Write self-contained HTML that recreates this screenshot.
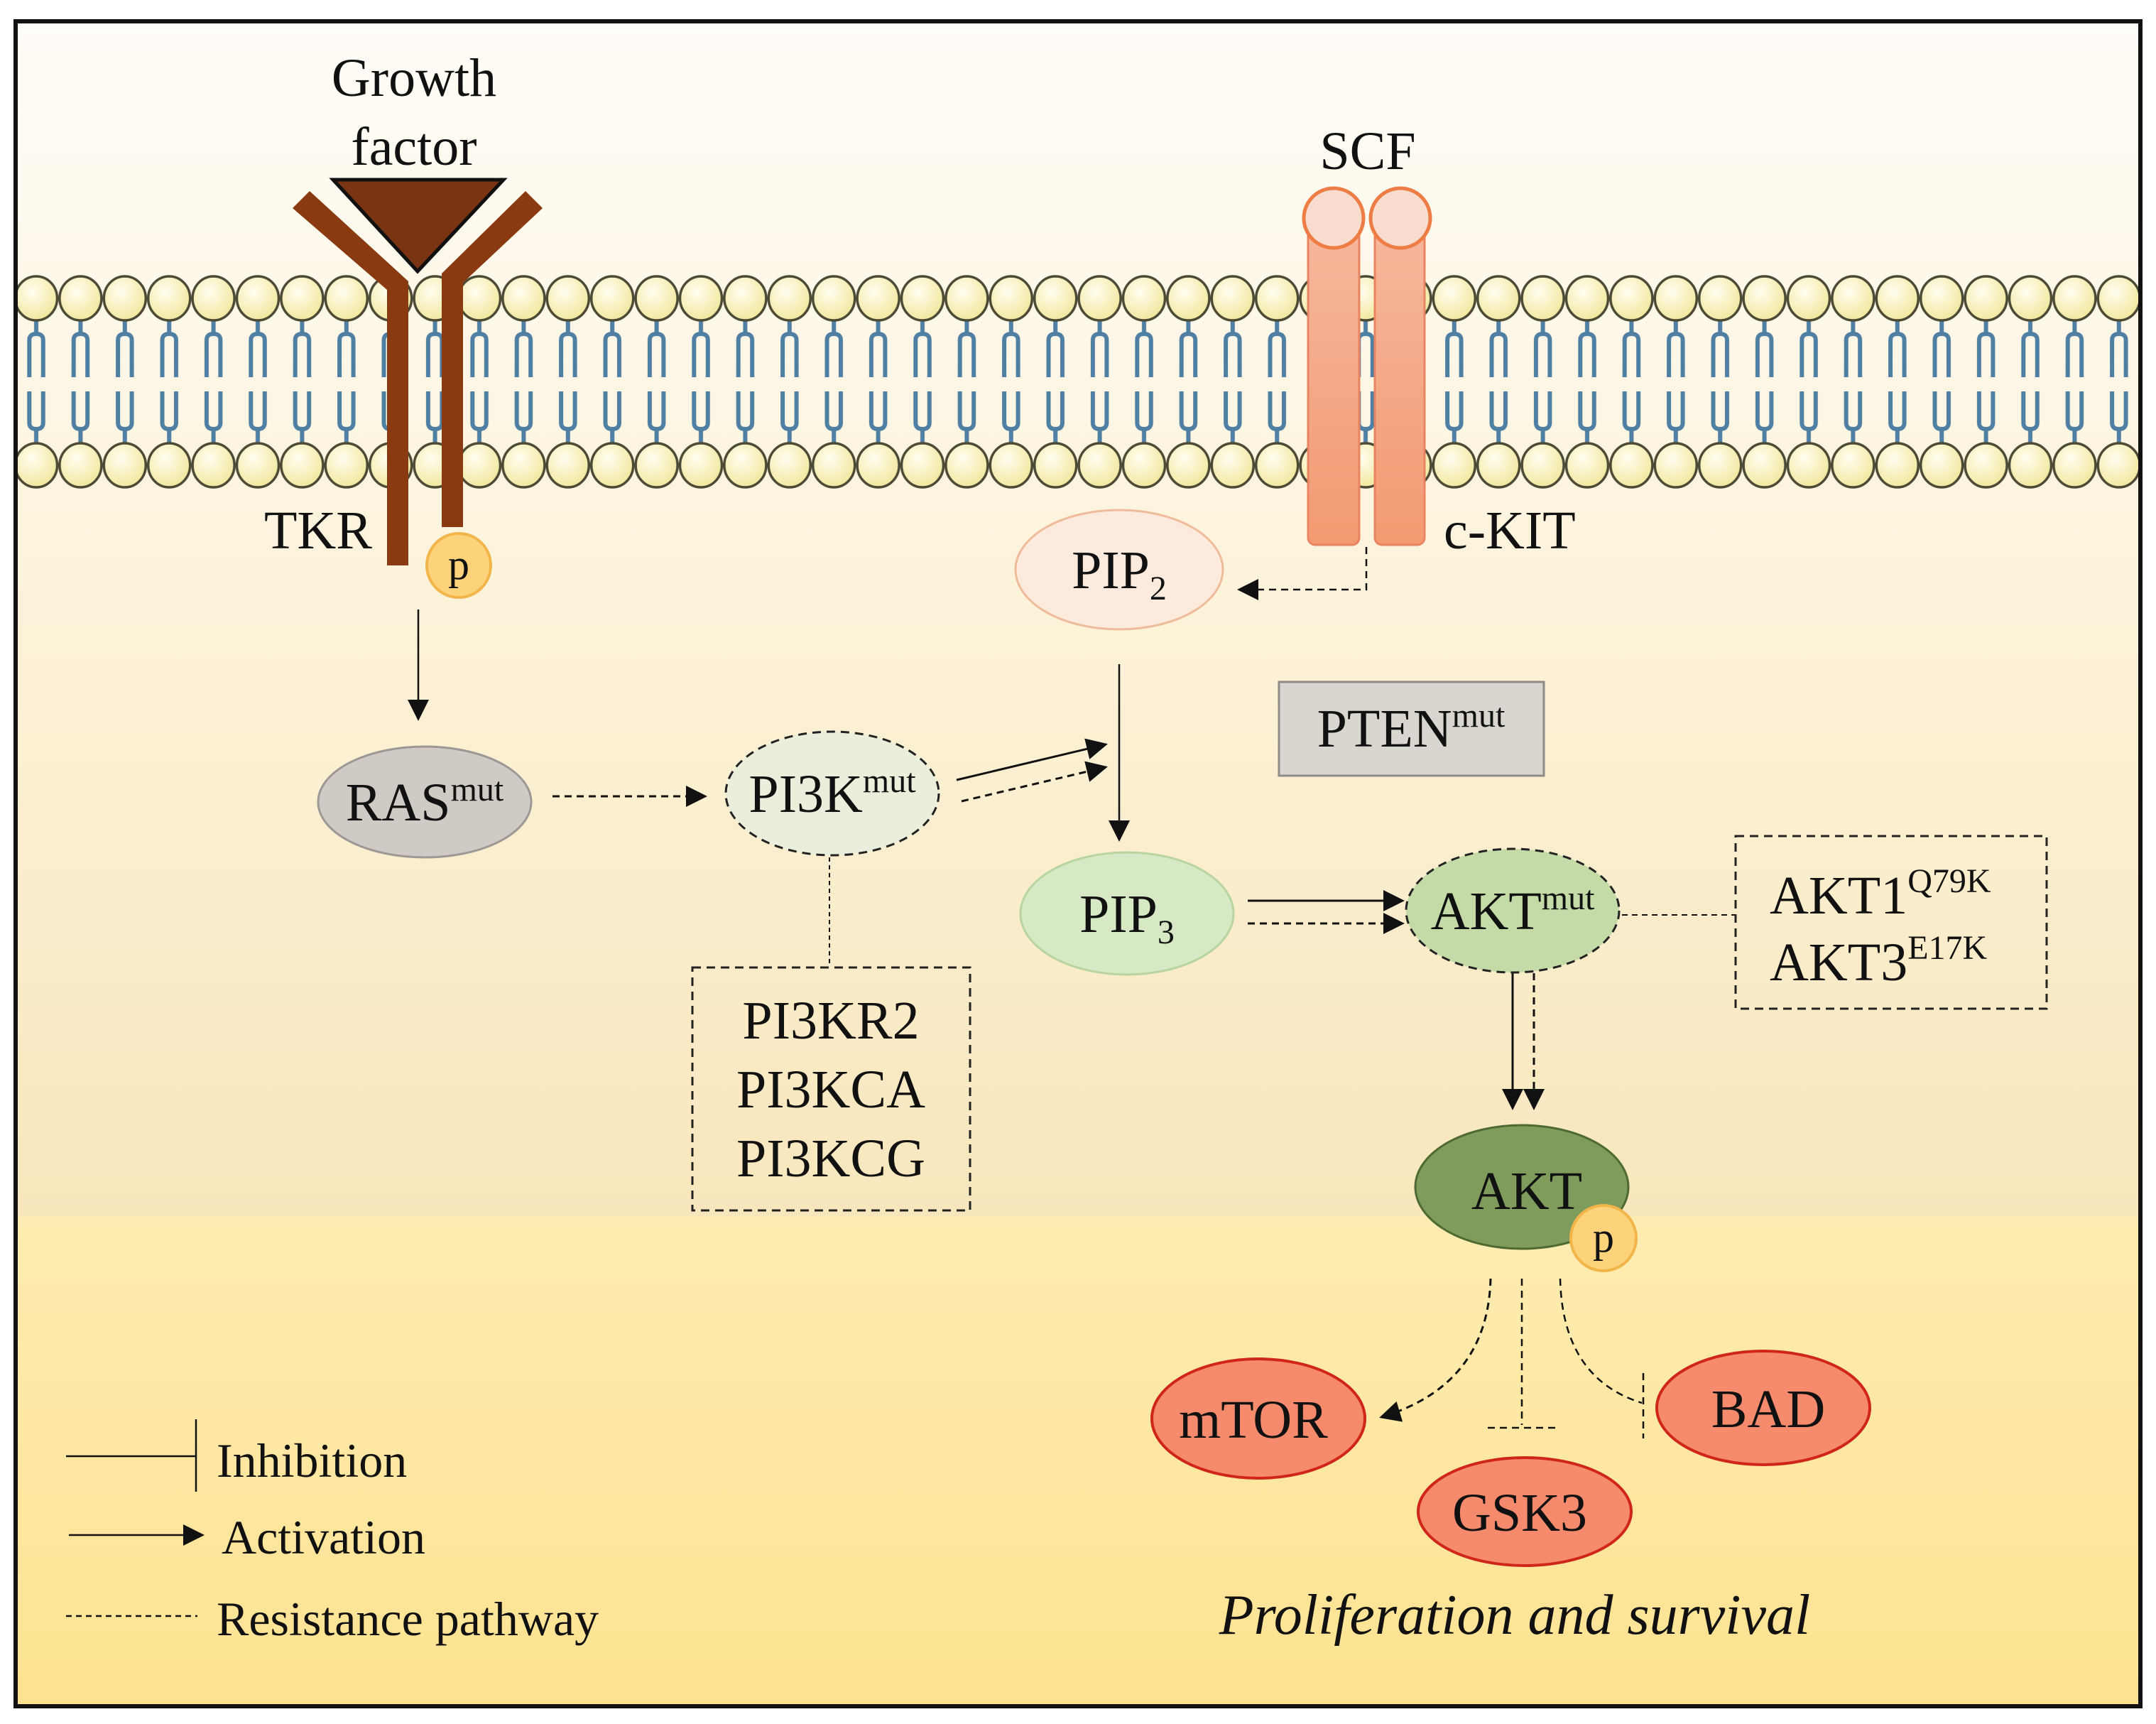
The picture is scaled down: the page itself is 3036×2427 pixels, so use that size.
<!DOCTYPE html>
<html><head><meta charset="utf-8"><style>
html,body{margin:0;padding:0;background:#fff;}
svg{display:block;}
text{font-family:"Liberation Serif",serif;fill:#111;}
</style></head><body>
<svg width="3036" height="2427" viewBox="0 0 3036 2427" xmlns="http://www.w3.org/2000/svg">
<defs>
<linearGradient id="bg1" x1="0" y1="0" x2="0" y2="1">
<stop offset="0" stop-color="#fffdf8"/><stop offset="0.55" stop-color="#fcf1d6"/><stop offset="1" stop-color="#f8e7bd"/>
</linearGradient>
<linearGradient id="bg2" x1="0" y1="0" x2="0" y2="1">
<stop offset="0" stop-color="#feecb2"/><stop offset="1" stop-color="#fde290"/>
</linearGradient>
<radialGradient id="head" cx="0.4" cy="0.35" r="0.7">
<stop offset="0" stop-color="#fffef0"/><stop offset="1" stop-color="#f1e69a"/>
</radialGradient>
<linearGradient id="kit" x1="0" y1="0" x2="0" y2="1">
<stop offset="0" stop-color="#f6b79c"/><stop offset="1" stop-color="#f39a72"/>
</linearGradient>
<pattern id="mem" patternUnits="userSpaceOnUse" x="19.8" y="0" width="62.4" height="2427">
<g fill="none" stroke="#4f7fa3" stroke-width="6">
<path d="M31.2 451 V470 M21.5 531 V479 Q21.5 470 31.2 470 Q41 470 41 479 V531"/>
<path d="M21.5 551 V595 Q21.5 604 31.2 604 Q41 604 41 595 V551 M31.2 604 V624"/>
</g>
<ellipse cx="31.2" cy="420" rx="29.5" ry="31" fill="url(#head)" stroke="#4a4a35" stroke-width="3.5"/>
<ellipse cx="31.2" cy="655" rx="29.5" ry="31" fill="url(#head)" stroke="#4a4a35" stroke-width="3.5"/>
</pattern>
<marker id="ahb" viewBox="0 0 10 10" refX="9" refY="5" markerWidth="34" markerHeight="30" markerUnits="userSpaceOnUse" orient="auto">
<path d="M0 0 L10 5 L0 10 Z" fill="#111"/></marker>
</defs>

<rect x="19" y="27" width="2998" height="1685" fill="url(#bg1)"/>
<rect x="19" y="1712" width="2998" height="693" fill="url(#bg2)"/>

<rect x="20" y="385" width="2995" height="305" fill="url(#mem)"/>

<g fill="#8a3a10">
<polygon points="412,293 436,269 575,396 575,796 545,796 545,408"/>
<polygon points="764,293 740,269 622,385 622,742 652,742 652,398"/>
</g>
<polygon points="469,253 709,253 588,382" fill="#7b3411" stroke="#111" stroke-width="5"/>
<text x="583" y="135" font-size="76" text-anchor="middle">Growth</text>
<text x="583" y="232" font-size="76" text-anchor="middle">factor</text>
<text x="372" y="772" font-size="76">TKR</text>
<circle cx="646" cy="796" r="45" fill="#fcd27a" stroke="#f2b54a" stroke-width="4"/>
<text x="646" y="815" font-size="60" text-anchor="middle">p</text>

<rect x="1842" y="320" width="72" height="447" rx="10" fill="url(#kit)" stroke="#e8845f" stroke-width="3"/>
<rect x="1936" y="320" width="70" height="447" rx="10" fill="url(#kit)" stroke="#e8845f" stroke-width="3"/>
<circle cx="1878" cy="307" r="42" fill="#f8dccd" stroke="#ee7d45" stroke-width="5"/>
<circle cx="1972" cy="307" r="42" fill="#f8dccd" stroke="#ee7d45" stroke-width="5"/>
<text x="1926" y="238" font-size="76" text-anchor="middle">SCF</text>
<text x="2033" y="772" font-size="76">c-KIT</text>

<g stroke="#111" stroke-width="3" fill="none">
<line x1="589" y1="858" x2="589" y2="1012" marker-end="url(#ahb)" stroke-width="2.5"/>
<line x1="778" y1="1121" x2="993" y2="1121" stroke-dasharray="10,7" marker-end="url(#ahb)"/>
<line x1="1168" y1="1207" x2="1168" y2="1360" stroke-dasharray="6,5" stroke-width="2"/>
<line x1="1347" y1="1098" x2="1557" y2="1048" marker-end="url(#ahb)"/>
<line x1="1354" y1="1128" x2="1557" y2="1080" stroke-dasharray="10,7" marker-end="url(#ahb)"/>
<path d="M1924 770 V830 H1745" stroke-dasharray="10,7" stroke-width="2.5" marker-end="url(#ahb)"/>
<line x1="1576" y1="935" x2="1576" y2="1182" marker-end="url(#ahb)" stroke-width="2.5"/>
<line x1="1757" y1="1268" x2="1975" y2="1268" marker-end="url(#ahb)"/>
<line x1="1757" y1="1300" x2="1975" y2="1300" stroke-dasharray="10,7" marker-end="url(#ahb)"/>
<line x1="2284" y1="1288" x2="2444" y2="1288" stroke-dasharray="8,6" stroke-width="2"/>
<line x1="2130" y1="1370" x2="2130" y2="1560" marker-end="url(#ahb)"/>
<line x1="2160" y1="1370" x2="2160" y2="1560" stroke-dasharray="10,7" marker-end="url(#ahb)"/>
<path d="M2099 1800 Q2095 1950 1945 1995" stroke-dasharray="10,7" marker-end="url(#ahb)"/>
<line x1="2143" y1="1800" x2="2143" y2="2006" stroke-dasharray="10,7" stroke-width="2.5"/>
<line x1="2095" y1="2010" x2="2192" y2="2010" stroke-dasharray="10,7" stroke-width="2.5"/>
<path d="M2197 1800 Q2200 1940 2312 1975" stroke-dasharray="10,7" stroke-width="2.5"/>
<line x1="2314" y1="1933" x2="2314" y2="2025" stroke-dasharray="10,7" stroke-width="2.5"/>
</g>

<ellipse cx="598" cy="1129" rx="150" ry="78" fill="#cfcac4" stroke="#9c9994" stroke-width="3"/>
<text x="598" y="1155" font-size="76" text-anchor="middle">RAS<tspan font-size="48" dy="-28">mut</tspan></text>

<ellipse cx="1172" cy="1117" rx="150" ry="87" fill="#e9efda" stroke="#222" stroke-width="3" stroke-dasharray="12,8"/>
<text x="1172" y="1143" font-size="76" text-anchor="middle">PI3K<tspan font-size="48" dy="-28">mut</tspan></text>

<rect x="975" y="1362" width="391" height="342" fill="none" stroke="#222" stroke-width="3" stroke-dasharray="12,8"/>
<text x="1170" y="1462" font-size="76" text-anchor="middle">PI3KR2</text>
<text x="1170" y="1559" font-size="76" text-anchor="middle">PI3KCA</text>
<text x="1170" y="1656" font-size="76" text-anchor="middle">PI3KCG</text>

<ellipse cx="1576" cy="802" rx="146" ry="84" fill="#fcebdc" stroke="#efbb9a" stroke-width="3"/>
<text x="1576" y="828" font-size="76" text-anchor="middle">PIP<tspan font-size="48" dy="16">2</tspan></text>

<rect x="1801" y="960" width="373" height="132" fill="#d9d6d0" stroke="#8e8b86" stroke-width="3"/>
<text x="1987" y="1051" font-size="76" text-anchor="middle">PTEN<tspan font-size="48" dy="-28">mut</tspan></text>

<ellipse cx="1587" cy="1286" rx="150" ry="86" fill="#d6e8c4" stroke="#b8d5a0" stroke-width="3"/>
<text x="1587" y="1312" font-size="76" text-anchor="middle">PIP<tspan font-size="48" dy="16">3</tspan></text>

<ellipse cx="2130" cy="1282" rx="150" ry="87" fill="#c4dba8" stroke="#222" stroke-width="3" stroke-dasharray="12,8"/>
<text x="2130" y="1308" font-size="76" text-anchor="middle">AKT<tspan font-size="48" dy="-28">mut</tspan></text>

<rect x="2444" y="1177" width="438" height="243" fill="none" stroke="#222" stroke-width="3" stroke-dasharray="12,8"/>
<text x="2492" y="1286" font-size="76">AKT1<tspan font-size="48" dy="-30">Q79K</tspan></text>
<text x="2492" y="1380" font-size="76">AKT3<tspan font-size="48" dy="-30">E17K</tspan></text>

<ellipse cx="2143" cy="1671" rx="150" ry="87" fill="#7f9c5c" stroke="#4e6a32" stroke-width="3"/>
<text x="2150" y="1702" font-size="76" text-anchor="middle">AKT</text>
<circle cx="2258" cy="1743" r="46" fill="#fcd27a" stroke="#f2b54a" stroke-width="4"/>
<text x="2258" y="1762" font-size="60" text-anchor="middle">p</text>

<ellipse cx="1772" cy="1997" rx="150" ry="84" fill="#f58b6c" stroke="#d0261a" stroke-width="4"/>
<text x="1765" y="2024" font-size="76" text-anchor="middle">mTOR</text>
<ellipse cx="2147" cy="2128" rx="150" ry="76" fill="#f58b6c" stroke="#d0261a" stroke-width="4"/>
<text x="2140" y="2155" font-size="76" text-anchor="middle">GSK3</text>
<ellipse cx="2483" cy="1982" rx="150" ry="80" fill="#f58b6c" stroke="#d0261a" stroke-width="4"/>
<text x="2490" y="2009" font-size="76" text-anchor="middle">BAD</text>

<text x="2133" y="2300" font-size="80" font-style="italic" text-anchor="middle">Proliferation and survival</text>

<g stroke="#111" stroke-width="2.5" fill="none">
<line x1="93" y1="2050" x2="276" y2="2050"/>
<line x1="276" y1="1998" x2="276" y2="2100"/>
<line x1="97" y1="2161" x2="285" y2="2161" marker-end="url(#ahb)"/>
<line x1="93" y1="2275" x2="278" y2="2275" stroke-dasharray="8,6"/>
</g>
<text x="305" y="2079" font-size="68">Inhibition</text>
<text x="312" y="2187" font-size="68">Activation</text>
<text x="305" y="2302" font-size="68">Resistance pathway</text>

<rect x="22" y="30" width="2992" height="2372" fill="none" stroke="#111" stroke-width="6"/>
</svg>
</body></html>
